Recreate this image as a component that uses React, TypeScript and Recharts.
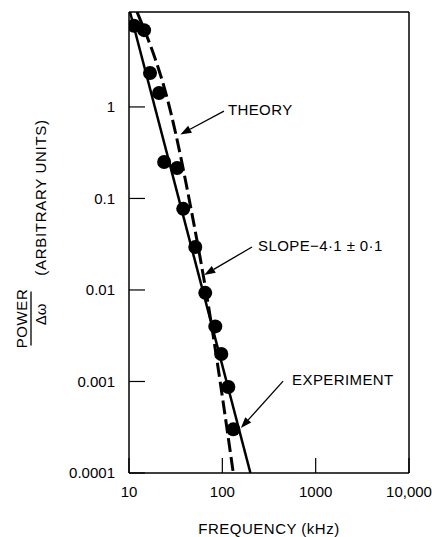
import React from "react";
import {
  ComposedChart,
  Line,
  Scatter,
  XAxis,
  YAxis,
  ReferenceLine,
} from "recharts";

const FONT = '"Liberation Sans", Arial, sans-serif';

// measured spectrum points (frequency kHz, power/Δω)
const expFreq = [11.3, 14.5, 16.8, 21.0, 23.8, 32.8, 38.1, 51.3, 65.6, 84.1, 97.5, 116, 131];
const expPower = [7.7, 6.9, 2.35, 1.42, 0.25, 0.215, 0.077, 0.0295, 0.0093, 0.004, 0.002, 0.00087, 0.0003];

// theory curve (dashed)
const theoryFreq = [12.2, 27.6, 48.7, 67.3, 131];
const theoryPower = [10.9, 0.93, 0.058, 0.0093, 0.0001];

// fitted power law, slope -4.1 (solid)
const fitFreq = [10.25, 200];
const fitPower = [10.9, 0.0001];

const xTicks = [10, 100, 1000, 10000];
const yTicks = [0.0001, 0.001, 0.01, 0.1, 1];
const X_DOMAIN = [10, 10000];
const Y_DOMAIN = [0.0001, 10.9];

const zip = (xs: number[], ys: number[]) => xs.map((x, i) => ({ x, y: ys[i] }));
const experiment = zip(expFreq, expPower);
const theory = zip(theoryFreq, theoryPower);
const fit = zip(fitFreq, fitPower);

// annotation arrows: tail -> tip, in data coords
const notes = [
  { text: "THEORY", from: { x: 104, y: 0.9 }, to: { x: 35.5, y: 0.5 }, dx: 4, dy: -2 },
  { text: "SLOPE\u22124\u00b71 \u00b1 0\u00b71", from: { x: 208, y: 0.0295 }, to: { x: 64, y: 0.0146 }, dx: 6, dy: -1 },
  { text: "EXPERIMENT", from: { x: 448, y: 0.00101 }, to: { x: 158, y: 0.00031 }, dx: 9, dy: -2 },
];

function arrowShape(text: string, dx: number, dy: number) {
  return (p: any) => {
    const { x1, y1, x2, y2 } = p;
    const a = Math.atan2(y2 - y1, x2 - x1);
    const len = 11;
    const w = 4;
    const bx = x2 - len * Math.cos(a);
    const by = y2 - len * Math.sin(a);
    const px = -Math.sin(a) * w;
    const py = Math.cos(a) * w;
    return (
      <g>
        <line x1={x1} y1={y1} x2={bx} y2={by} stroke="#000" strokeWidth={1.3} />
        <polygon points={`${x2},${y2} ${bx + px},${by + py} ${bx - px},${by - py}`} fill="#000" />
        <text
          x={x1 + dx}
          y={y1 + dy}
          dominantBaseline="central"
          fontSize={15}
          letterSpacing={0.4}
          fontFamily={FONT}
          fill="#000"
        >
          {text}
        </text>
      </g>
    );
  };
}

const fmtY = (v: number) => String(v);
const fmtX = (v: number) => (v === 10000 ? "10,000" : String(v));

function YTitle(props: any) {
  const vb = props.viewBox || { x: 69, y: 12, width: 60, height: 461 };
  const cx = vb.x - 38;
  const cy = vb.y + vb.height / 2 + 76;
  return (
    <g transform={`translate(${cx},${cy}) rotate(-90)`} fontFamily={FONT} fill="#000">
      <text x={0} y={-10} textAnchor="middle" dominantBaseline="central" fontSize={15} letterSpacing={0.6}>
        POWER
      </text>
      <line x1={-27} y1={0} x2={27} y2={0} stroke="#000" strokeWidth={1.3} />
      <text x={4} y={9} textAnchor="middle" dominantBaseline="central" fontSize={15}>
        Δω
      </text>
      <text x={121} y={9} textAnchor="middle" dominantBaseline="central" fontSize={15} letterSpacing={0.7}>
        (ARBITRARY UNITS)
      </text>
    </g>
  );
}

function XTitle(props: any) {
  const vb = props.viewBox || { x: 129, y: 473, width: 280, height: 30 };
  return (
    <text
      x={vb.x + vb.width / 2}
      y={vb.y + 55}
      textAnchor="middle"
      dominantBaseline="central"
      fontSize={15}
      letterSpacing={0.5}
      fontFamily={FONT}
      fill="#000"
    >
      FREQUENCY (kHz)
    </text>
  );
}

export default function App() {
  const tickStyle = { fontSize: 15, fontFamily: FONT, fill: "#000" };
  return (
    <div style={{ position: "absolute", left: 0, top: 0, background: "#fff" }}>
      <ComposedChart width={432} height={537} margin={{ top: 12, right: 23, bottom: 34, left: 69 }}>
        <XAxis
          type="number"
          dataKey="x"
          scale="log"
          domain={X_DOMAIN}
          allowDataOverflow
          ticks={xTicks}
          tickFormatter={fmtX}
          tick={tickStyle}
          tickSize={-15}
          tickMargin={28}
          axisLine={{ stroke: "#000", strokeWidth: 1.5 }}
          tickLine={{ stroke: "#000", strokeWidth: 1.2 }}
          height={30}
          label={{ content: XTitle }}
        />
        <YAxis
          type="number"
          dataKey="y"
          scale="log"
          domain={Y_DOMAIN}
          allowDataOverflow
          ticks={yTicks}
          tickFormatter={fmtY}
          tick={tickStyle}
          tickSize={-16}
          tickMargin={30}
          axisLine={{ stroke: "#000", strokeWidth: 1.5 }}
          tickLine={{ stroke: "#000", strokeWidth: 1.2 }}
          width={60}
          label={{ content: YTitle }}
        />
        <ReferenceLine y={Y_DOMAIN[1]} stroke="#000" strokeWidth={1.5} />
        <ReferenceLine x={X_DOMAIN[1]} stroke="#000" strokeWidth={1.5} />
        <Line
          data={fit}
          dataKey="y"
          type="linear"
          stroke="#000"
          strokeWidth={2.5}
          dot={false}
          isAnimationActive={false}
        />
        <Line
          data={theory}
          dataKey="y"
          type="monotone"
          stroke="#000"
          strokeWidth={3}
          strokeDasharray="14 5"
          dot={false}
          isAnimationActive={false}
        />
        <Scatter
          data={experiment}
          fill="#000"
          isAnimationActive={false}
          shape={(p: any) => <circle cx={p.cx} cy={p.cy} r={7} fill="#000" />}
        />
        {notes.map((n) => (
          <ReferenceLine
            key={n.text}
            segment={[n.from, n.to]}
            shape={arrowShape(n.text, n.dx, n.dy)}
          />
        ))}
      </ComposedChart>
    </div>
  );
}
